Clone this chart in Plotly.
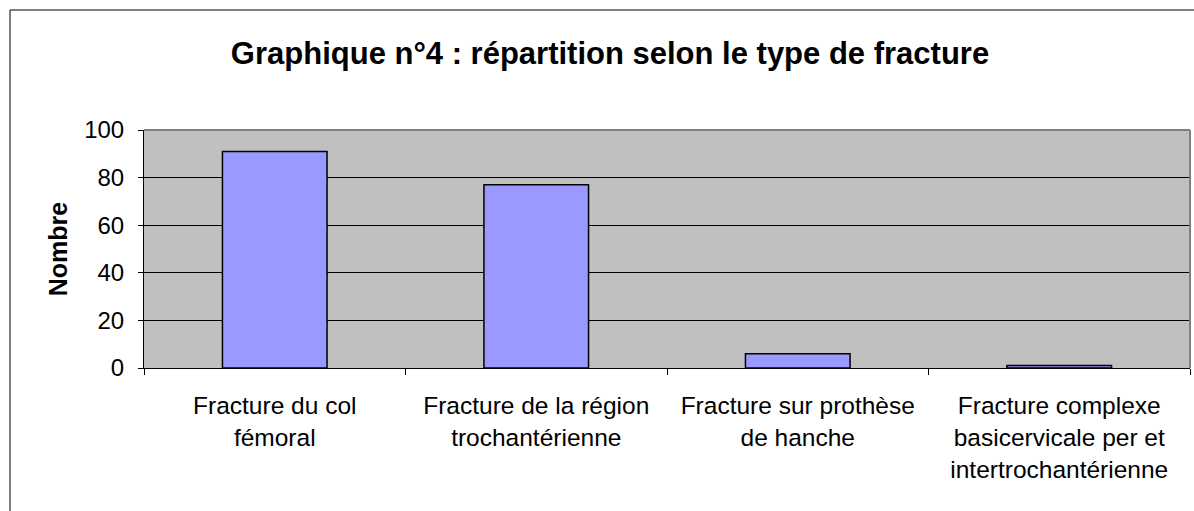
import plotly.graph_objects as go

categories = [
    "Fracture du col<br>fémoral",
    "Fracture de la région<br>trochantérienne",
    "Fracture sur prothèse<br>de hanche",
    "Fracture complexe<br>basicervicale per et<br>intertrochantérienne",
]
values = [91, 77, 6, 1]
y_ticks = [0, 20, 40, 60, 80, 100]

W, H = 1194, 511
L, R, T, B = 144, 4, 130, 143
pw, ph = W - L - R, H - T - B

def px_x(x):
    return (x - L) / pw

def px_y(y):
    return (H - B - y) / ph

FONT = "Arial, Liberation Sans, sans-serif"

fig = go.Figure(
    go.Bar(
        x=categories,
        y=values,
        marker=dict(color="#9999FF", line=dict(color="black", width=1.5)),
    )
)

fig.update_layout(
    width=W,
    height=H,
    margin=dict(l=L, r=R, t=T, b=B),
    paper_bgcolor="white",
    plot_bgcolor="#C0C0C0",
    bargap=0.6,
    showlegend=False,
    font=dict(family=FONT, size=24, color="black"),
    title=dict(
        text="<b>Graphique n°4 : répartition selon le type de fracture</b>",
        x=610 / W,
        xanchor="center",
        y=1 - 53 / H,
        yanchor="middle",
        xref="container",
        yref="container",
        font=dict(size=31, family=FONT, color="black"),
    ),
)

fig.update_xaxes(
    showline=True,
    linecolor="black",
    linewidth=1,
    ticks="outside",
    tickson="boundaries",
    ticklen=6,
    tickcolor="black",
    showgrid=False,
    tickfont=dict(size=24.5),
    ticklabelstandoff=16,
)
fig.update_yaxes(
    range=[0, 100],
    tickvals=y_ticks,
    showline=True,
    linecolor="black",
    linewidth=1,
    ticks="outside",
    ticklen=5,
    tickcolor="black",
    showgrid=True,
    gridcolor="black",
    gridwidth=1,
    zeroline=False,
    tickfont=dict(size=24),
    ticklabelstandoff=9,
    title=dict(text="<b>Nombre</b>", font=dict(size=25), standoff=9),
)

shapes = [
    # outer chart border
    dict(type="rect", xref="paper", yref="paper",
         x0=px_x(10), x1=px_x(1210), y0=px_y(530), y1=px_y(10),
         line=dict(color="black", width=1), fillcolor="rgba(0,0,0,0)", layer="above"),
    # plot area top and right edges
    dict(type="line", xref="paper", yref="paper", x0=0, x1=1, y0=1, y1=1,
         line=dict(color="#808080", width=2), layer="above"),
    dict(type="line", xref="paper", yref="paper", x0=1, x1=1, y0=0, y1=1,
         line=dict(color="#808080", width=2), layer="above"),
]
fig.update_layout(shapes=shapes)

fig.write_html(
    "out.html",
    config={"displayModeBar": False},
    post_script="document.body.style.margin='0px';",
)
